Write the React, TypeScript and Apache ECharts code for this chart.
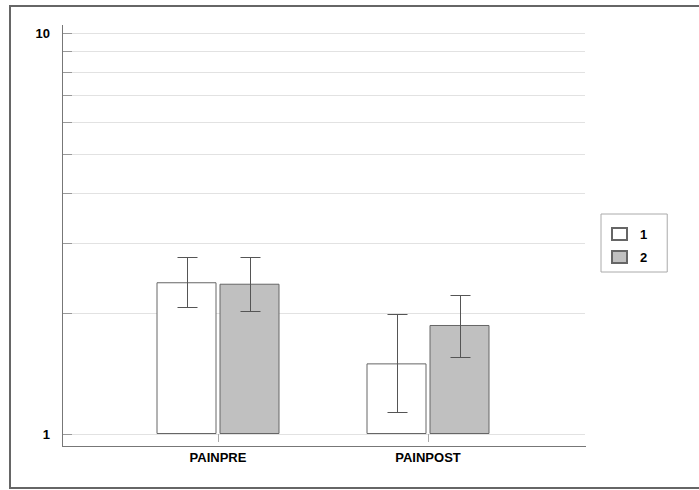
import React, { useEffect, useRef } from "react";
import * as echarts from "echarts";

const categories = ["PAINPRE", "PAINPOST"];
const seriesNames = ["1", "2"];
const means1 = [2.39, 1.5];
const means2 = [2.37, 1.87];
const errLow1 = [2.07, 1.137];
const errHigh1 = [2.76, 1.99];
const errLow2 = [2.03, 1.56];
const errHigh2 = [2.76, 2.22];
const gridValues = [1, 2, 3, 4, 5, 6, 7, 8, 9, 10];

const BAR_W = 60;
const BAR_GAP = 3;

export default function App() {
  const ref = useRef<HTMLDivElement>(null);
  useEffect(() => {
    if (!ref.current) return;
    const chart = echarts.init(ref.current, null, { renderer: "svg" });
    const font = "'Liberation Sans', Arial, sans-serif";
    const errData: number[][] = [];
    for (let i = 0; i < categories.length; i++) {
      errData.push([i, errLow1[i], errHigh1[i], 0]);
      errData.push([i, errLow2[i], errHigh2[i], 1]);
    }
    const option: any = {
      animation: false,
      backgroundColor: "#fff",
      grid: { left: 113, right: 166, top: 33, bottom: 56, containLabel: false },
      legend: {
        data: seriesNames,
        orient: "vertical",
        left: 601,
        top: 214,
        width: 67,
        icon: "rect",
        itemWidth: 15,
        itemHeight: 12,
        itemGap: 9,
        padding: [13, 20, 8, 10],
        borderColor: "#aaa",
        borderWidth: 1,
        textStyle: { fontFamily: font, fontWeight: "bold", fontSize: 13, color: "#000", padding: [0, 0, 0, 8] },
        selectedMode: false,
      },
      xAxis: {
        type: "category",
        data: categories,
        axisLine: { show: false },
        axisTick: { show: true, alignWithLabel: true, length: 8, lineStyle: { color: "#aaa" } },
        axisLabel: { margin: 17, fontFamily: font, fontWeight: "bold", fontSize: 13, color: "#000" },
        splitLine: { show: false },
      },
      yAxis: {
        type: "log",
        logBase: 10,
        min: 1,
        max: 10,
        axisLine: { show: false },
        axisTick: { show: false },
        splitLine: { show: false },
        axisLabel: { margin: 63, fontFamily: font, fontWeight: "bold", fontSize: 13, color: "#000" },
      },
      graphic: [
        {
          type: "rect",
          shape: { x: 10, y: 6, width: 700, height: 482 },
          style: { fill: "none", stroke: "#666", lineWidth: 2 },
          silent: true,
          z: 100,
        },
        {
          type: "line",
          shape: { x1: 62.5, y1: 25, x2: 62.5, y2: 446.5 },
          style: { stroke: "#777", lineWidth: 1 },
          z: 50,
        },
        {
          type: "line",
          shape: { x1: 62, y1: 446.5, x2: 586, y2: 446.5 },
          style: { stroke: "#777", lineWidth: 1 },
          z: 50,
        },
      ],
      series: [
        {
          type: "custom",
          name: "grid",
          silent: true,
          z: 0,
          data: gridValues.map((v) => [0, v]),
          renderItem: (params: any, api: any) => {
            const cs = params.coordSys;
            const y = Math.round(api.coord([0, api.value(1)])[1]) + 0.5;
            const x0 = 63;
            const x1 = cs.x + cs.width + 52;
            return {
              type: "group",
              children: [
                { type: "line", shape: { x1: x0, y1: y, x2: x1, y2: y }, style: { stroke: "#e2e2e2", lineWidth: 1 } },
                { type: "line", shape: { x1: x0, y1: y, x2: x0 + 9, y2: y }, style: { stroke: "#999", lineWidth: 1 } },
              ],
            };
          },
        },
        {
          type: "bar",
          name: seriesNames[0],
          data: means1,
          barWidth: BAR_W,
          barGap: "5%",
          itemStyle: { color: "#ffffff", borderColor: "#666", borderWidth: 1 },
          z: 2,
        },
        {
          type: "bar",
          name: seriesNames[1],
          data: means2,
          barWidth: BAR_W,
          barGap: "5%",
          itemStyle: { color: "#c0c0c0", borderColor: "#666", borderWidth: 1 },
          z: 2,
        },
        {
          type: "custom",
          name: "err",
          silent: true,
          z: 5,
          data: errData,
          renderItem: (params: any, api: any) => {
            const cat = api.value(0);
            const s = api.value(3);
            const off = (s === 0 ? -1 : 1) * (BAR_W + BAR_GAP) / 2;
            const lo = api.coord([cat, api.value(1)]);
            const hi = api.coord([cat, api.value(2)]);
            const x = Math.round(lo[0] + off) + 0.5;
            const yl = Math.round(lo[1]) + 0.5;
            const yh = Math.round(hi[1]) + 0.5;
            const st = { stroke: "#555", lineWidth: 1 };
            return {
              type: "group",
              children: [
                { type: "line", shape: { x1: x, y1: yl, x2: x, y2: yh }, style: st },
                { type: "line", shape: { x1: x - 10, y1: yl, x2: x + 10, y2: yl }, style: st },
                { type: "line", shape: { x1: x - 10, y1: yh, x2: x + 10, y2: yh }, style: st },
              ],
            };
          },
        },
      ],
    };
    chart.setOption(option);
    return () => chart.dispose();
  }, []);
  return (
    <div
      ref={ref}
      style={{ position: "fixed", left: 0, top: 0, width: 699, height: 490 }}
    />
  );
}
